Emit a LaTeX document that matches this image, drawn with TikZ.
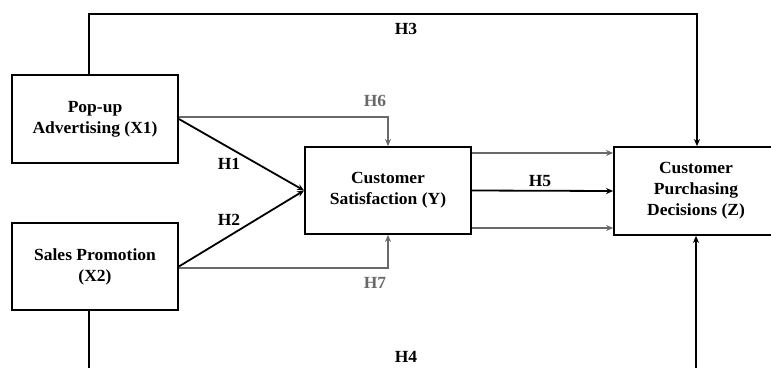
\documentclass[tikz,border=0pt]{standalone}
\usepackage{fontspec}
\setmainfont{Liberation Serif}[FakeStretch=1.03]
\usetikzlibrary{arrows.meta}
\definecolor{midgray}{RGB}{105,105,105}
\begin{document}
\begin{tikzpicture}[x=1pt,y=-1pt,
  every node/.style={font=\fontsize{17}{21}\selectfont\bfseries},
  varbox/.style={draw=black,line width=1.8pt,align=center,inner sep=0pt,
    minimum width=166pt,minimum height=88pt},
  mainlink/.style={draw=black,line width=1.8pt},
  grayl/.style={draw=midgray,line width=1.5pt},
  tip/.style={-{Stealth[length=7pt,width=6pt]}},
  hlab/.style={inner sep=0pt},
  glab/.style={inner sep=0pt,text=midgray}]
\useasboundingbox (0,0) rectangle (771,367);
\clip (0,0) rectangle (771,367);

% construct boxes
\node[varbox] (X1) at (95,119) {Pop-up\\Advertising (X1)};
\node[varbox,minimum height=87pt] (X2) at (95,266.5) {Sales Promotion\\(X2)};
\node[varbox,minimum height=87pt] (Y) at (388,190.5) {Customer\\Satisfaction (Y)};
\node[varbox,minimum width=164pt] (Z) at (696,191) {Customer\\Purchasing\\Decisions (Z)};

% routing points of the direct paths
\coordinate (h3a) at (89,14);
\coordinate (h3b) at (697,14);
\coordinate (h4a) at (89,390);
\coordinate (h4b) at (696,390);

% H3: X1 -> Z over the top
\draw[mainlink,tip] (X1.north -| h3a) -- (h3a) -- (h3b) -- (Z.north -| h3b);
% H4: X2 -> Z under the bottom
\draw[mainlink,tip] (X2.south -| h4a) -- (h4a) -- (h4b) -- (Z.south -| h4b);

% H1, H2
\draw[mainlink,tip] (X1.east) -- (Y.west);
\draw[mainlink,tip] (X2.east) -- (Y.west);

% H6, H7 mediated paths
\draw[grayl,tip] ([yshift=2pt]X1.east) -- ([yshift=2pt]X1.east -| Y.north) -- (Y.north);
\draw[grayl,tip] ([yshift=-1.5pt]X2.east) -- ([yshift=-1.5pt]X2.east -| Y.south) -- (Y.south);

% Y -> Z
\draw[mainlink,tip] (Y.east) -- (Z.west);
\draw[grayl,tip] ([yshift=37.5pt]Y.east) -- ([yshift=37.5pt]Y.east -| Z.west);
\draw[grayl,tip] ([yshift=-37.5pt]Y.east) -- ([yshift=-37.5pt]Y.east -| Z.west);

% hypothesis labels
\node[hlab] (lH3) at (406,29) {H3};
\node[glab] (lH6) at (375,101) {H6};
\node[hlab] (lH1) at (229,164) {H1};
\node[hlab] (lH2) at (229,220) {H2};
\node[hlab] (lH5) at (540,181.5) {H5};
\node[glab] (lH7) at (375,283) {H7};
\node[hlab] (lH4) at (406,357) {H4};
\end{tikzpicture}
\end{document}
